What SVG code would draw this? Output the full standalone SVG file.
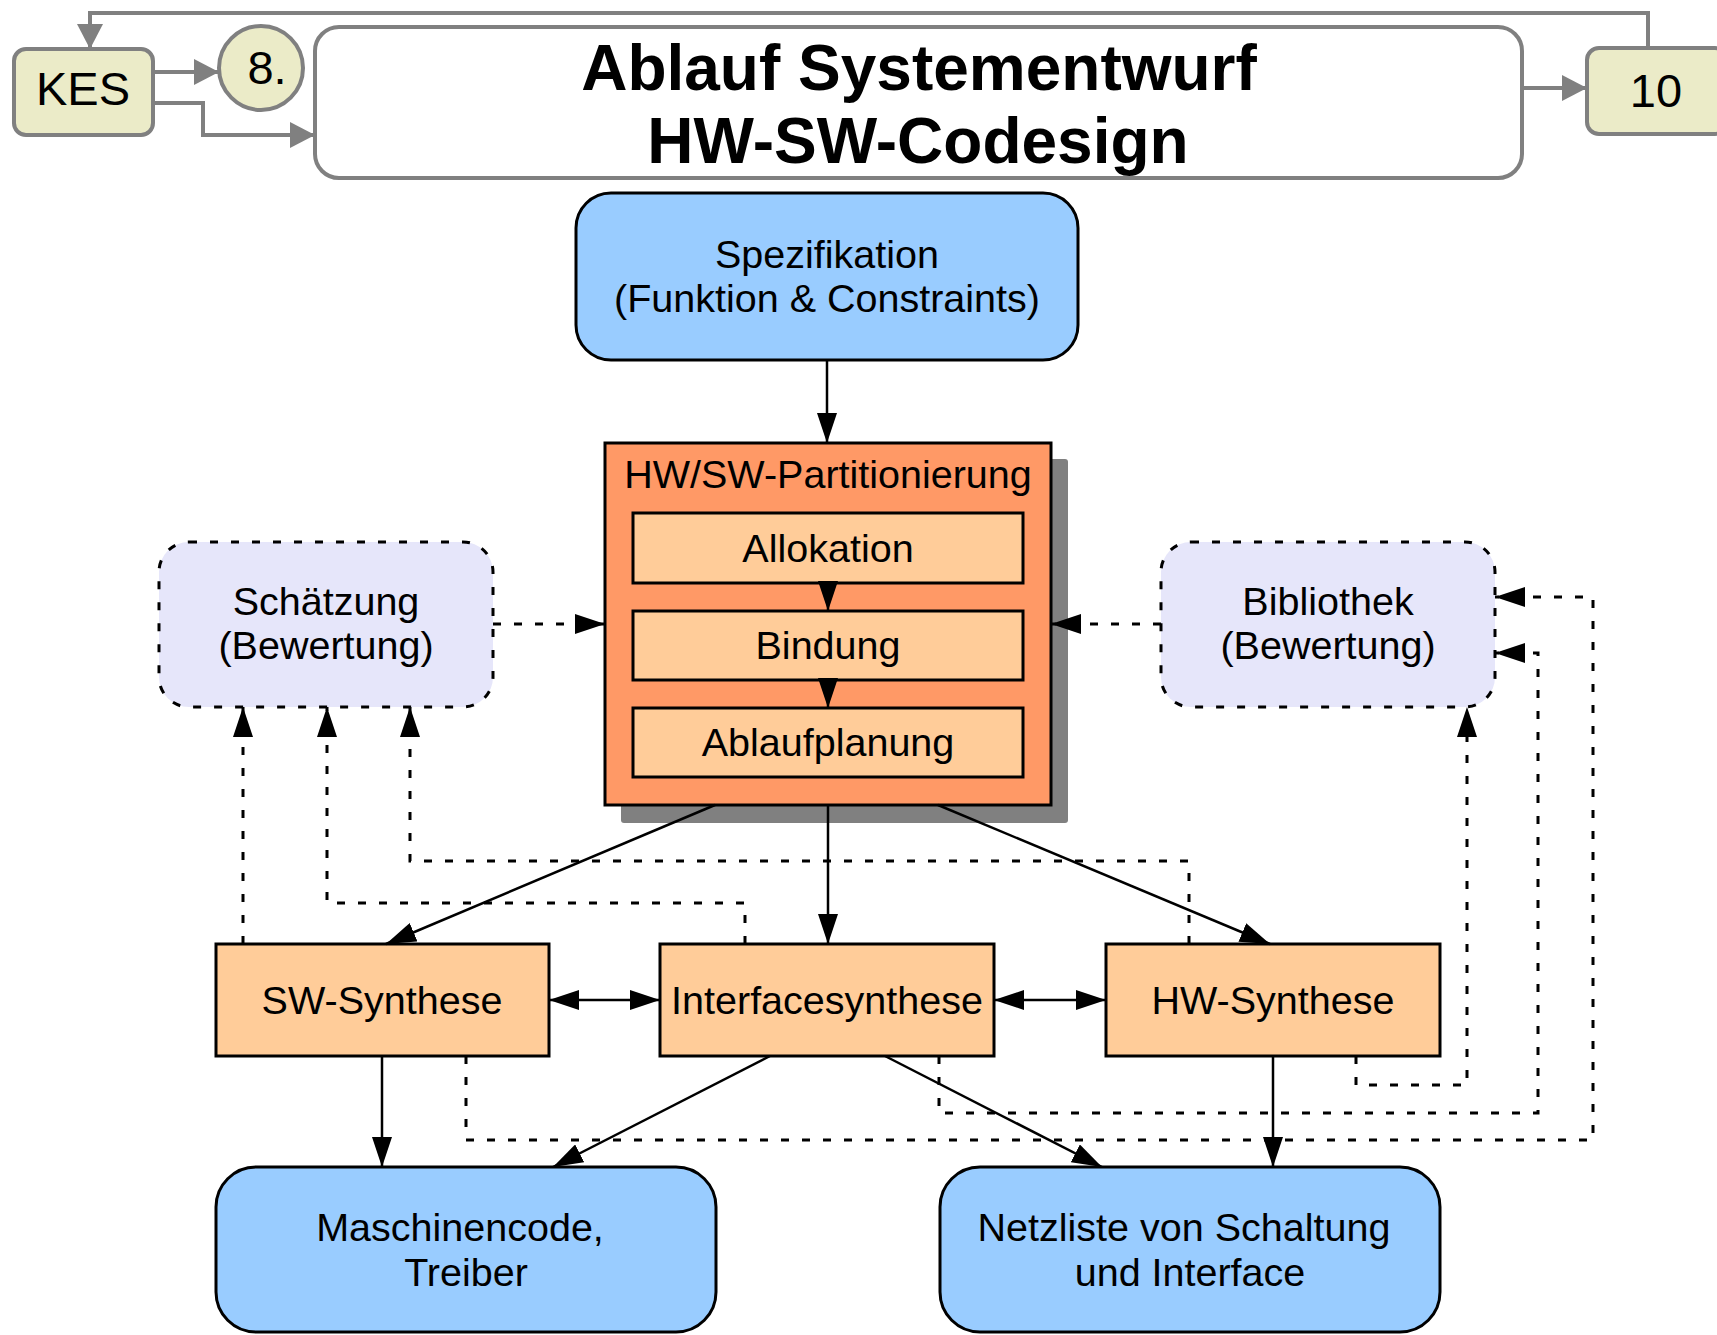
<svg xmlns="http://www.w3.org/2000/svg" width="1717" height="1335" viewBox="0 0 1717 1335">
  <defs>
    <!-- black arrowhead for flow connectors -->
    <marker id="ah" markerUnits="userSpaceOnUse" markerWidth="30" markerHeight="20" refX="30" refY="10" orient="auto-start-reverse" viewBox="0 0 30 20">
      <path d="M0,0 L30,10 L0,20 z" fill="#000"/>
    </marker>
    <!-- grey arrowhead for the navigation strip -->
    <marker id="ahg" markerUnits="userSpaceOnUse" markerWidth="25" markerHeight="26" refX="25" refY="13" orient="auto" viewBox="0 0 25 26">
      <path d="M0,0 L25,13 L0,26 z" fill="#808080"/>
    </marker>
  </defs>
  <style>
    text { font-family: "Liberation Sans", Arial, Helvetica, sans-serif; fill: #000; text-anchor: middle; }
    .lbl { font-size: 39.5px; }
    .nav { font-size: 47px; }
    .ttl { font-size: 64px; font-weight: bold; }
    .tag { fill: #ebebc8; stroke: #808080; stroke-width: 4; }
    .gline { fill: none; stroke: #808080; stroke-width: 4; marker-end: url(#ahg); }
    .box { stroke: #000; stroke-width: 3; }
    .blue { fill: #99ccff; }
    .orange { fill: #ff9966; }
    .peach { fill: #ffcc99; }
    .eval { fill: #e6e6fa; stroke: #000; stroke-width: 3; stroke-dasharray: 8 13; }
    .solid { fill: none; stroke: #000; stroke-width: 2.5; marker-end: url(#ah); }
    .both { marker-start: url(#ah); }
    .dash { fill: none; stroke: #000; stroke-width: 3; stroke-dasharray: 8 13; marker-end: url(#ah); }
  </style>

  <rect width="1717" height="1335" fill="#fff"/>

  <!-- navigation strip -->
  <g id="nav-kes">
    <rect class="tag" x="14" y="49" width="139" height="86" rx="12"/>
    <text class="nav" x="83" y="105">KES</text>
  </g>
  <g id="nav-step8">
    <circle class="tag" cx="261" cy="68" r="42"/>
    <text x="267" y="84" style="font-size:47px">8.</text>
  </g>
  <g id="title">
    <rect x="315" y="27" width="1207" height="151" rx="24" fill="#fff" stroke="#808080" stroke-width="4"/>
    <text class="ttl" x="919" y="90">Ablauf Systementwurf</text>
    <text class="ttl" x="918" y="163">HW-SW-Codesign</text>
  </g>
  <g id="nav-10">
    <rect class="tag" x="1587" y="48" width="140" height="86" rx="12"/>
    <text class="nav" x="1656" y="107">10</text>
  </g>

  <!-- flow nodes -->
  <g id="spezifikation">
    <rect class="box blue" x="576" y="193" width="502" height="167" rx="35"/>
    <text class="lbl" x="827" y="268">Spezifikation</text>
    <text class="lbl" x="827" y="312">(Funktion &amp; Constraints)</text>
  </g>

  <g id="partitionierung">
    <rect x="621" y="459" width="447" height="364" rx="3" fill="#808080"/>
    <rect class="box orange" x="605" y="443" width="446" height="362"/>
    <text class="lbl" x="828" y="488">HW/SW-Partitionierung</text>
  </g>
  <g id="allokation">
    <rect class="box peach" x="633" y="513" width="390" height="70"/>
    <text class="lbl" x="828" y="562">Allokation</text>
  </g>
  <g id="bindung">
    <rect class="box peach" x="633" y="611" width="390" height="69"/>
    <text class="lbl" x="828" y="659">Bindung</text>
  </g>
  <g id="ablaufplanung">
    <rect class="box peach" x="633" y="708" width="390" height="69"/>
    <text class="lbl" x="828" y="756">Ablaufplanung</text>
  </g>

  <g id="schaetzung">
    <rect class="eval" x="159" y="542" width="334" height="165" rx="30"/>
    <text class="lbl" x="326" y="615">Schätzung</text>
    <text class="lbl" x="326" y="659">(Bewertung)</text>
  </g>
  <g id="bibliothek">
    <rect class="eval" x="1161" y="542" width="334" height="165" rx="30"/>
    <text class="lbl" x="1328" y="615">Bibliothek</text>
    <text class="lbl" x="1328" y="659">(Bewertung)</text>
  </g>

  <g id="sw-synthese">
    <rect class="box peach" x="216" y="944" width="333" height="112"/>
    <text class="lbl" x="382" y="1014">SW-Synthese</text>
  </g>
  <g id="interfacesynthese">
    <rect class="box peach" x="660" y="944" width="334" height="112"/>
    <text class="lbl" x="827" y="1014">Interfacesynthese</text>
  </g>
  <g id="hw-synthese">
    <rect class="box peach" x="1106" y="944" width="334" height="112"/>
    <text class="lbl" x="1273" y="1014">HW-Synthese</text>
  </g>

  <g id="maschinencode">
    <rect class="box blue" x="216" y="1167" width="500" height="165" rx="40"/>
    <text class="lbl" x="460" y="1241">Maschinencode,</text>
    <text class="lbl" x="466" y="1286">Treiber</text>
  </g>
  <g id="netzliste">
    <rect class="box blue" x="940" y="1167" width="500" height="165" rx="40"/>
    <text class="lbl" x="1184" y="1241">Netzliste von Schaltung</text>
    <text class="lbl" x="1190" y="1286">und Interface</text>
  </g>

  <!-- connectors -->
  <g id="connectors">
    <!-- navigation -->
    <path class="gline" d="M153,72 H219"/>
    <path class="gline" d="M153,103 H203 V135 H315"/>
    <path class="gline" d="M1522,88 H1587"/>
    <path class="gline" d="M1648,48 V13 H90 V49"/>

    <!-- main flow -->
    <path class="solid" d="M827,360 V443"/>
    <path class="solid" d="M828,583 V611"/>
    <path class="solid" d="M828,680 V708"/>
    <path class="solid" d="M715,805 L386,944"/>
    <path class="solid" d="M828,805 V944"/>
    <path class="solid" d="M938,805 L1270,944"/>
    <path class="solid both" d="M549,1000 H660"/>
    <path class="solid both" d="M994,1000 H1106"/>
    <path class="solid" d="M382,1056 V1167"/>
    <path class="solid" d="M770,1056 L553,1167"/>
    <path class="solid" d="M885,1056 L1102,1167"/>
    <path class="solid" d="M1273,1056 V1167"/>

    <!-- evaluation feedback -->
    <path class="dash" d="M493,624 H605"/>
    <path class="dash" d="M1161,624 H1051"/>
    <path class="dash" d="M243,944 V707"/>
    <path class="dash" d="M745,944 V903 H327 V707"/>
    <path class="dash" d="M1189,944 V861 H410 V707"/>
    <path class="dash" d="M1356,1056 V1085 H1467 V707"/>
    <path class="dash" d="M939,1056 V1113 H1538 V653 H1495"/>
    <path class="dash" d="M466,1056 V1140 H1593 V597 H1495"/>
  </g>
</svg>
